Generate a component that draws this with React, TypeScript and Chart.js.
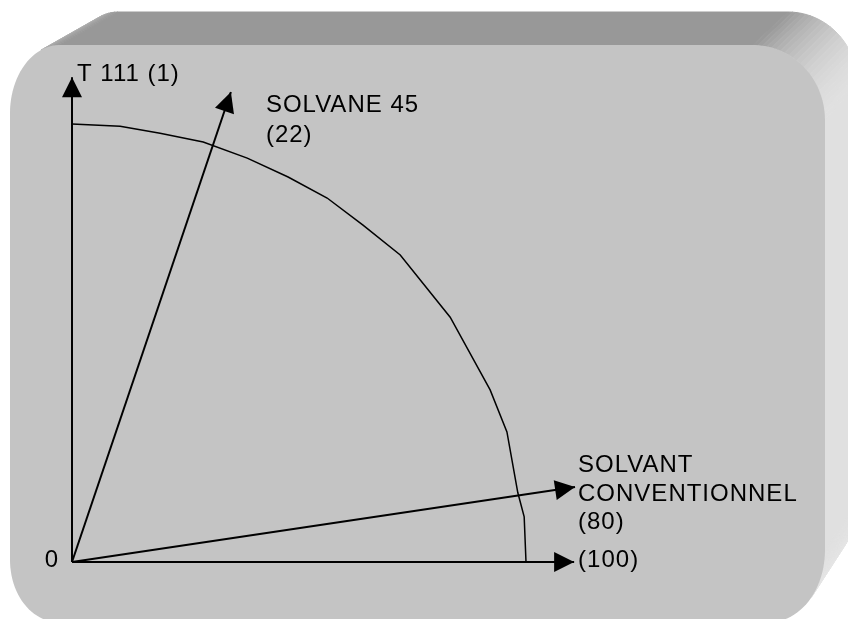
import React, { useEffect, useRef } from "react";
import { Chart, registerables } from "chart.js";

Chart.register(...registerables);

// ---- Data ----
// Quarter "iso" curve (polyline vertices), in axis units (100 = full scale)
const arcX = [0, 10.6, 19.4, 28.9, 38.6, 47.6, 56.2, 64.1, 72.3, 83.3, 92.1, 95.8, 98.2, 99.6, 100];
const arcY = [100, 99.5, 97.9, 95.9, 92.2, 87.9, 83.1, 76.9, 70.1, 55.9, 39.3, 29.7, 15.8, 10.3, 0];

// Arrows from the origin (tips, in axis units)
const arrowNames = ["T 111", "SOLVANE 45", "SOLVANT CONVENTIONNEL", "axe horizontal"];
const arrowTipX = [0, 35.0, 110.8, 110.6];
const arrowTipY = [110.7, 107.3, 17.1, 0];
const arrowLabels = [
  ["T 111 (1)"],
  ["SOLVANE 45", "(22)"],
  ["SOLVANT", "CONVENTIONNEL", "(80)"],
  ["(100)"],
];
const originLabel = "0";

// ---- Layout / style (not data) ----
const LABEL_LAYOUT = [
  { dx: 5, dy: 4, lh: 30 },
  { dx: 35, dy: 20, lh: 30 },
  { dx: 3, dy: -15, lh: 28.5 },
  { dx: 4, dy: 5, lh: 28 },
];
const FONT = '24px "Liberation Sans", Arial, sans-serif';

type Pt = { x: number; y: number };

function outline(x0: number, y0: number, x1: number, y1: number): Pt[] {
  const corners = [
    { cx: 0, cy: 0, rx: 50, ry: 68, t0: Math.PI, key: "tl" },
    { cx: 0, cy: 0, rx: 72, ry: 75, t0: 1.5 * Math.PI, key: "tr" },
    { cx: 0, cy: 0, rx: 55, ry: 72, t0: 0, key: "br" },
    { cx: 0, cy: 0, rx: 48, ry: 62, t0: 0.5 * Math.PI, key: "bl" },
  ];
  corners[0].cx = x0 + corners[0].rx; corners[0].cy = y0 + corners[0].ry;
  corners[1].cx = x1 - corners[1].rx; corners[1].cy = y0 + corners[1].ry;
  corners[2].cx = x1 - corners[2].rx; corners[2].cy = y1 - corners[2].ry;
  corners[3].cx = x0 + corners[3].rx; corners[3].cy = y1 - corners[3].ry;
  const pts: Pt[] = [];
  const N = 24;
  for (const c of corners) {
    for (let i = 0; i <= N; i++) {
      const t = c.t0 + (i / N) * (Math.PI / 2);
      pts.push({ x: c.cx + c.rx * Math.cos(t), y: c.cy + c.ry * Math.sin(t) });
    }
  }
  return pts;
}

const panelPlugin = {
  id: "panel3d",
  beforeDraw(chart: any) {
    const ctx: CanvasRenderingContext2D = chart.ctx;
    const pts = outline(10, 45, 825, 622);
    const k = 0.033;
    const V = { x: 1815, y: -955 };
    const back = (p: Pt): Pt => ({ x: p.x + k * (V.x - p.x), y: p.y + k * (V.y - p.y) });
    ctx.save();
    const n = pts.length;
    for (let i = 0; i < n; i++) {
      const a = pts[i];
      const b = pts[(i + 1) % n];
      const ex = b.x - a.x, ey = b.y - a.y;
      const len = Math.hypot(ex, ey);
      if (len < 1e-6) continue;
      const nx = ey / len, ny = -ex / len;
      const mid = { x: (a.x + b.x) / 2, y: (a.y + b.y) / 2 };
      const bm = back(mid);
      const vis = nx * (bm.x - mid.x) + ny * (bm.y - mid.y);
      if (vis <= 0) continue;
      const phi = Math.atan2(nx, -ny);
      let br: number;
      if (phi >= 0 && phi <= Math.PI / 2) br = 152 + 72 * Math.sin(phi);
      else if (phi > Math.PI / 2) br = 224 + 10 * Math.sin(phi - Math.PI / 2);
      else br = 152 + 60 * Math.abs(Math.sin(phi));
      const c = Math.round(br);
      const col = `rgb(${c},${c},${c})`;
      const ba = back(a), bb = back(b);
      ctx.beginPath();
      ctx.moveTo(a.x, a.y);
      ctx.lineTo(b.x, b.y);
      ctx.lineTo(bb.x, bb.y);
      ctx.lineTo(ba.x, ba.y);
      ctx.closePath();
      ctx.fillStyle = col;
      ctx.strokeStyle = col;
      ctx.lineWidth = 1;
      ctx.fill();
      ctx.stroke();
    }
    ctx.beginPath();
    pts.forEach((p, i) => (i === 0 ? ctx.moveTo(p.x, p.y) : ctx.lineTo(p.x, p.y)));
    ctx.closePath();
    ctx.fillStyle = "#c4c4c4";
    ctx.fill();
    ctx.restore();
  },
};

const arrowPlugin = {
  id: "arrowsAndLabels",
  afterDatasetsDraw(chart: any) {
    const ctx: CanvasRenderingContext2D = chart.ctx;
    const xs = chart.scales.x;
    const ys = chart.scales.y;
    const ox = xs.getPixelForValue(0);
    const oy = ys.getPixelForValue(0);
    ctx.save();
    ctx.fillStyle = "#000";
    for (let i = 0; i < arrowTipX.length; i++) {
      const tx = xs.getPixelForValue(arrowTipX[i]);
      const ty = ys.getPixelForValue(arrowTipY[i]);
      const L = Math.hypot(tx - ox, ty - oy);
      const ux = (tx - ox) / L, uy = (ty - oy) / L;
      const bx = tx - ux * 20, by = ty - uy * 20;
      const px = -uy, py = ux;
      ctx.beginPath();
      ctx.moveTo(tx, ty);
      ctx.lineTo(bx + px * 10, by + py * 10);
      ctx.lineTo(bx - px * 10, by - py * 10);
      ctx.closePath();
      ctx.fill();

      const lay = LABEL_LAYOUT[i];
      ctx.font = FONT;
      (ctx as any).letterSpacing = "1px";
      ctx.textAlign = "left";
      ctx.textBaseline = "alphabetic";
      arrowLabels[i].forEach((line, j) => {
        ctx.fillText(line, tx + lay.dx, ty + lay.dy + j * lay.lh);
      });
    }
    ctx.textAlign = "right";
    (ctx as any).letterSpacing = "0px";
    ctx.fillText(originLabel, ox - 14, oy + 5);
    ctx.restore();
  },
};

export default function App() {
  const ref = useRef<HTMLCanvasElement>(null);
  useEffect(() => {
    const canvas = ref.current!;
    const datasets: any[] = [
      {
        label: "courbe",
        data: arcX.map((x, i) => ({ x, y: arcY[i] })),
        showLine: true,
        borderColor: "#000",
        borderWidth: 1.5,
        pointRadius: 0,
        fill: false,
        clip: false,
        tension: 0,
      },
      ...arrowTipX.map((x, i) => ({
        label: arrowNames[i],
        data: [
          { x: 0, y: 0 },
          { x, y: arrowTipY[i] },
        ],
        showLine: true,
        borderColor: "#000",
        borderWidth: 2,
        pointRadius: 0,
        fill: false,
        clip: false,
      })),
    ];
    const chart = new Chart(canvas, {
      type: "scatter",
      data: { datasets },
      options: {
        animation: false,
        responsive: false,
        devicePixelRatio: 1,
        events: [],
        layout: { padding: { left: 72, right: 322, top: 124, bottom: 57 } },
        scales: {
          x: { type: "linear", min: 0, max: 100, display: false },
          y: { type: "linear", min: 0, max: 100, display: false },
        },
        plugins: { legend: { display: false }, tooltip: { enabled: false } },
      },
      plugins: [panelPlugin, arrowPlugin],
    } as any);
    return () => chart.destroy();
  }, []);
  return (
    <div style={{ position: "absolute", left: 0, top: 0, width: 848, height: 619 }}>
      <canvas ref={ref} width={848} height={619} style={{ display: "block" }} />
    </div>
  );
}
